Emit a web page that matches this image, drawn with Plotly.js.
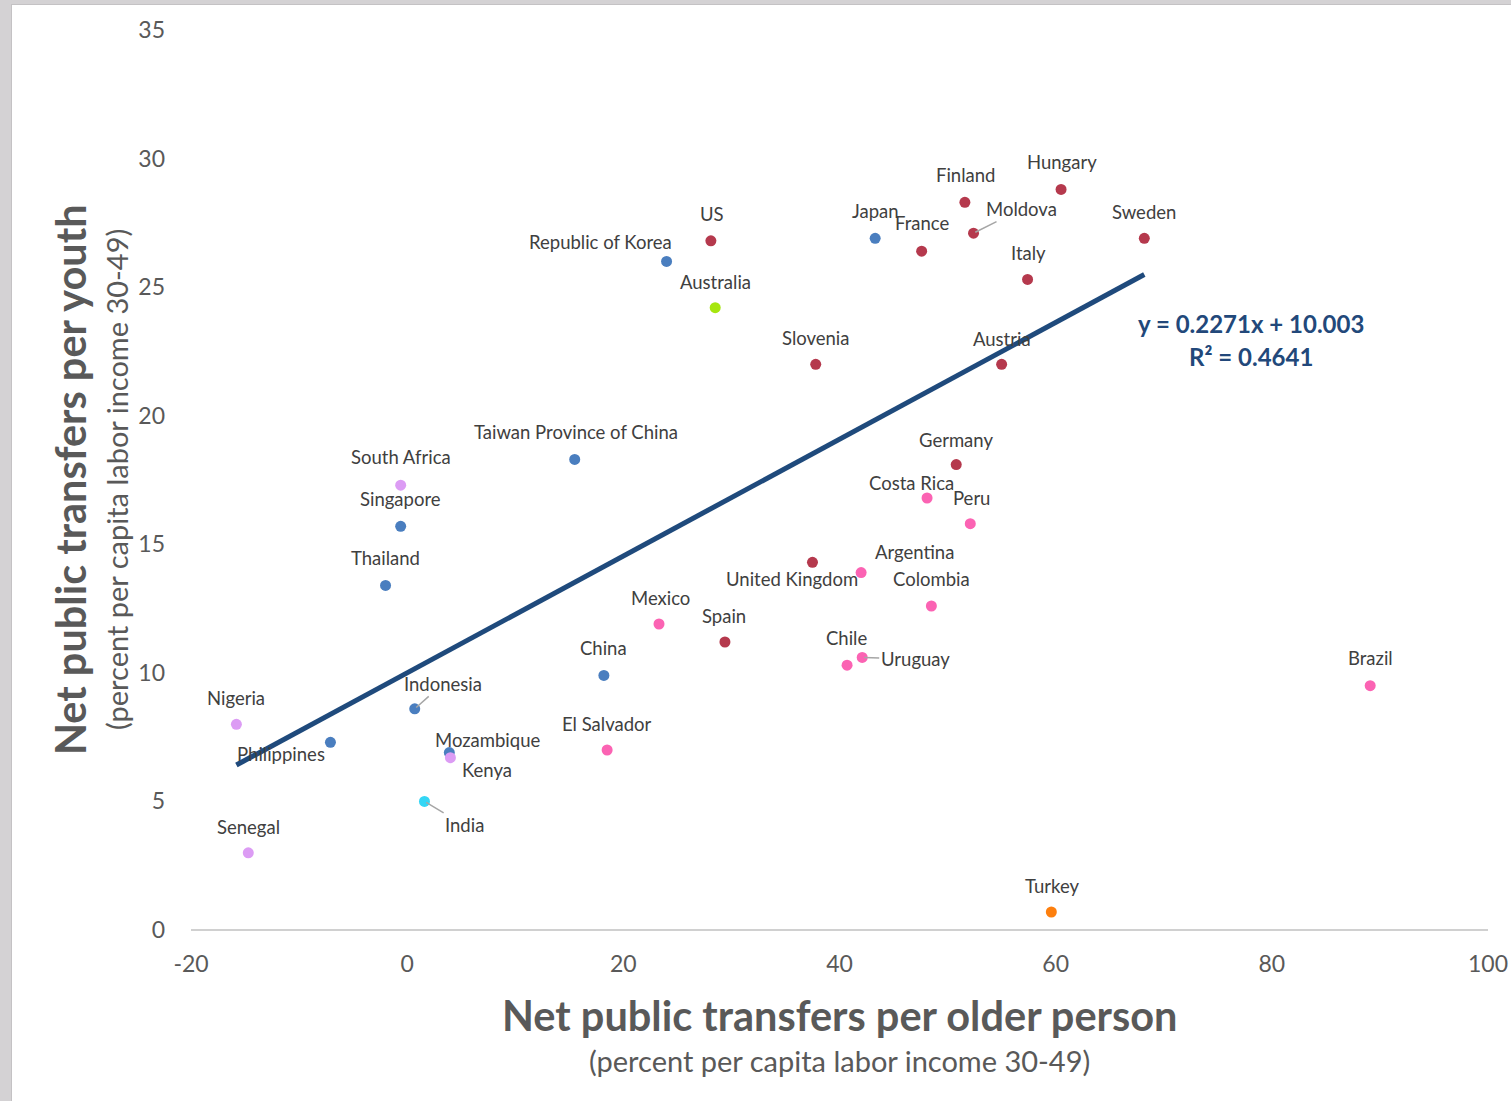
<!DOCTYPE html>
<html>
<head>
<meta charset="utf-8">
<script src="https://cdn.plot.ly/plotly-3.0.1.min.js"></script>
<style>
  html, body { margin: 0; padding: 0; background: #d4d2d4; width: 1511px; height: 1101px; overflow: hidden; }
  #frame { position: absolute; left: 11px; top: 4px; width: 1500px; height: 1097px; background: #c4c2c4; }
  #chart { position: absolute; left: 1px; top: 1px; width: 1499px; height: 1096px; background: #fff; }
</style>
</head>
<body>
<div id="frame"><div id="chart"></div></div>
<script>
// ---- Data ----
const countries = ["Nigeria","Philippines","Senegal","Thailand","Singapore","South Africa","Taiwan Province of China","Indonesia","Mozambique","Kenya","India","China","El Salvador","Mexico","Spain","Republic of Korea","US","Australia","Slovenia","United Kingdom","Japan","France","Finland","Moldova","Hungary","Sweden","Italy","Austria","Germany","Costa Rica","Peru","Argentina","Colombia","Chile","Uruguay","Brazil","Turkey"];
const olderTransfers = [-15.8,-7.1,-14.7,-2.0,-0.6,-0.6,15.5,0.7,3.9,4.0,1.6,18.2,18.5,23.3,29.4,24.0,28.1,28.5,37.8,37.5,43.3,47.6,51.6,52.4,60.5,68.2,57.4,55.0,50.8,48.1,52.1,42.0,48.5,40.7,42.1,89.1,59.6];
const youthTransfers = [8.0,7.3,3.0,13.4,15.7,17.3,18.3,8.6,6.9,6.7,5.0,9.9,7.0,11.9,11.2,26.0,26.8,24.2,22.0,14.3,26.9,26.4,28.3,27.1,28.8,26.9,25.3,22.0,18.1,16.8,15.8,13.9,12.6,10.3,10.6,9.5,0.7];
const groups = ["africa","asia","africa","asia","asia","africa","asia","asia","asia","africa","india","asia","latam","latam","europe","asia","europe","oceania","europe","europe","asia","europe","europe","europe","europe","europe","europe","europe","europe","latam","latam","latam","latam","latam","latam","latam","turkey"];
const trendSlope = 0.2271;
const trendIntercept = 10.003;
const trendRange = [-15.8, 68.2];
const xTicks = [-20,0,20,40,60,80,100];
const yTicks = [0,5,10,15,20,25,30,35];

// ---- Styles ----
const groupColors = {europe:"#b5394d", asia:"#4a7ebf", oceania:"#a6e60f", africa:"#dc9cf4", india:"#33d6f5", latam:"#fb63b3", turkey:"#fd7f0e"};
// label offsets in pixels from point: [dx, dy(down positive), leader]
const labelOffsets = {
  "Nigeria":[0,-26], "Philippines":[-49,12], "Senegal":[0,-26], "Thailand":[0,-27], "Singapore":[0,-27],
  "South Africa":[0,-28], "Taiwan Province of China":[1,-27], "Indonesia":[28,-25,true], "Mozambique":[38,-13],
  "Kenya":[37,12], "India":[40,24,true], "China":[0,-27], "El Salvador":[0,-26], "Mexico":[1,-26], "Spain":[-1,-26],
  "Republic of Korea":[-66,-19], "US":[1,-27], "Australia":[0,-26], "Slovenia":[0,-26], "United Kingdom":[-20,17],
  "Japan":[0,-27], "France":[0,-28], "Finland":[1,-27], "Moldova":[48,-24,true], "Hungary":[1,-27], "Sweden":[0,-26],
  "Italy":[1,-26], "Austria":[0,-25], "Germany":[0,-25], "Costa Rica":[-16,-15], "Peru":[1,-26], "Argentina":[53,-21],
  "Colombia":[0,-27], "Chile":[-1,-27], "Uruguay":[53,2,true], "Brazil":[0,-28], "Turkey":[1,-26]
};
const labelFont = {family:"Lato, 'Open Sans', sans-serif", size:18.5, color:"#404040"};

const traces = [];
traces.push({
  type:"scatter", mode:"lines",
  x: trendRange, y: trendRange.map(v => trendSlope*v + trendIntercept),
  line:{color:"#1f4a7c", width:5}, hoverinfo:"skip", showlegend:false
});
traces.push({
  type:"scatter", mode:"markers",
  x: olderTransfers, y: youthTransfers, text: countries,
  marker:{size:11, color: groups.map(g => groupColors[g]), line:{width:0}},
  showlegend:false
});

const annotations = countries.map((c,i) => {
  const o = labelOffsets[c] || [0,-25];
  if (o[2]) {
    return {x: olderTransfers[i], y: youthTransfers[i], xref:"x", yref:"y", text:c,
      showarrow:true, arrowhead:0, arrowwidth:1.5, arrowcolor:"#a6a6a6", ax:o[0], ay:o[1], standoff:2,
      font:labelFont};
  }
  return {x: olderTransfers[i], y: youthTransfers[i], xref:"x", yref:"y", text:c,
    showarrow:false, xshift:o[0], yshift:-o[1], font:labelFont};
});

const eqFont = {family:"Lato, sans-serif", size:24, color:"#22487a", weight:700};
annotations.push({xref:"x", yref:"y", x:78.1, y:23.6, text:"y = 0.2271x + 10.003", showarrow:false,
  font:eqFont, xanchor:"center", yanchor:"middle"});
annotations.push({xref:"x", yref:"y", x:78.1, y:22.3, text:"R² = 0.4641", showarrow:false,
  font:eqFont, xanchor:"center", yanchor:"middle"});

// axis titles
annotations.push({xref:"paper", yref:"paper", x:0.5, y:0, yshift:-85, xanchor:"center", yanchor:"middle",
  text:"<b>Net public transfers per older person</b>",
  showarrow:false, font:{family:"Lato, sans-serif", size:41.5, color:"#595959"}});
annotations.push({xref:"paper", yref:"paper", x:0.5, y:0, yshift:-130, xanchor:"center", yanchor:"middle",
  text:"(percent per capita labor income 30-49)",
  showarrow:false, font:{family:"Lato, sans-serif", size:29, color:"#595959"}});
annotations.push({xref:"paper", yref:"paper", x:0, y:0.5, xshift:-121, xanchor:"center", yanchor:"middle",
  text:"<b>Net public transfers per youth</b>",
  textangle:-90, showarrow:false, font:{family:"Lato, sans-serif", size:41.5, color:"#595959"}});
annotations.push({xref:"paper", yref:"paper", x:0, y:0.5, xshift:-75, xanchor:"center", yanchor:"middle",
  text:"(percent per capita labor income 30-49)",
  textangle:-90, showarrow:false, font:{family:"Lato, sans-serif", size:29, color:"#595959"}});

const layout = {
  width:1499, height:1096,
  margin:{l:179, r:23, t:25, b:171},
  paper_bgcolor:"#ffffff", plot_bgcolor:"#ffffff",
  xaxis:{range:[-20,100], tickvals:xTicks, ticktext:xTicks.map(String), showgrid:false, zeroline:false,
    showline:false, ticks:"", ticklabelstandoff:18,
    tickfont:{family:"Lato, sans-serif", size:23, color:"#595959"}},
  yaxis:{range:[0,35], tickvals:yTicks, ticktext:yTicks.map(String), showgrid:false, zeroline:true,
    zerolinecolor:"#d0d0d0", zerolinewidth:2, showline:false, ticks:"", ticklabelstandoff:25,
    tickfont:{family:"Lato, sans-serif", size:23, color:"#595959"}},
  annotations: annotations,
  showlegend:false
};

Plotly.newPlot("chart", traces, layout, {displayModeBar:false, staticPlot:true});
</script>
</body>
</html>
